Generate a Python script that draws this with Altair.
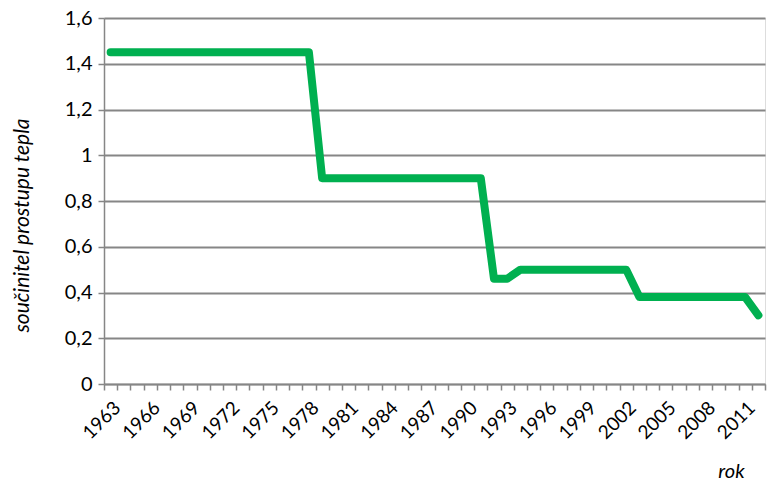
import altair as alt
import pandas as pd

years = list(range(1963, 2013))
values = ([1.45] * 16      # 1963-1978
          + [0.9] * 13     # 1979-1991
          + [0.46, 0.46]   # 1992-1993
          + [0.5] * 9      # 1994-2002
          + [0.38] * 9     # 2003-2011
          + [0.3])         # 2012
label_years = list(range(1963, 2012, 3))
y_ticks = [0, 0.2, 0.4, 0.6, 0.8, 1.0, 1.2, 1.4, 1.6]

df = pd.DataFrame({"rok": years, "u": values})

GRAY = "#868686"
FONT = "Lato"

xscale = alt.Scale(domain=[1962.5, 2012.5], nice=False, zero=False)
yscale = alt.Scale(domain=[0, 1.6], nice=False)

line = alt.Chart(df).mark_line(
    color="#00B050", strokeWidth=8, strokeCap="round", strokeJoin="round"
).encode(
    x=alt.X("rok:Q", scale=xscale,
            axis=alt.Axis(orient="bottom",
                          values=[1962.5 + i for i in range(51)], labels=False,
                          tickSize=6, tickColor=GRAY, tickWidth=1.5,
                          domainColor=GRAY, domainWidth=1.5, grid=False,
                          title="rok", titleFont=FONT, titleFontSize=20,
                          titleFontStyle="italic", titleFontWeight="normal",
                          titleColor="#000", titleX=627, titleY=93,
                          titleAlign="center", titleBaseline="alphabetic")),
    y=alt.Y("u:Q", scale=yscale,
            axis=alt.Axis(values=y_ticks,
                          labelExpr="replace(format(datum.value, '~g'), '.', ',')",
                          labelFont=FONT, labelFontSize=20, labelColor="#000",
                          labelPadding=6,
                          tickSize=6, tickColor=GRAY, tickWidth=1.5,
                          domainColor=GRAY, domainWidth=1.5,
                          grid=True, gridColor=GRAY, gridWidth=1.8,
                          title="součinitel prostupu tepla", titleFont=FONT,
                          titleFontSize=21, titleFontStyle="italic",
                          titleFontWeight="normal", titleColor="#000",
                          titleX=-72, titleY=207, titleAngle=270,
                          titleAlign="center", titleBaseline="bottom")),
)

labels = alt.Chart(df).mark_point(opacity=0).encode(
    x=alt.X("rok:Q", scale=xscale,
            axis=alt.Axis(orient="bottom", values=label_years, format="d",
                          ticks=False, domain=False, grid=False, labelAngle=-45,
                          labelFont=FONT, labelFontSize=19, labelColor="#000",
                          labelPadding=14, labelOverlap=False, title=None)),
    y=alt.value(0),
)

chart = alt.layer(line, labels).resolve_axis(x="independent").properties(
    width=661, height=366,
    autosize=alt.AutoSizeParams(type="none"),
    padding={"left": 96, "top": 10, "right": 2, "bottom": 96},
).configure_view(stroke=None).configure(background="white")

chart.save("out.html", embed_options={"renderer": "svg", "actions": False})
